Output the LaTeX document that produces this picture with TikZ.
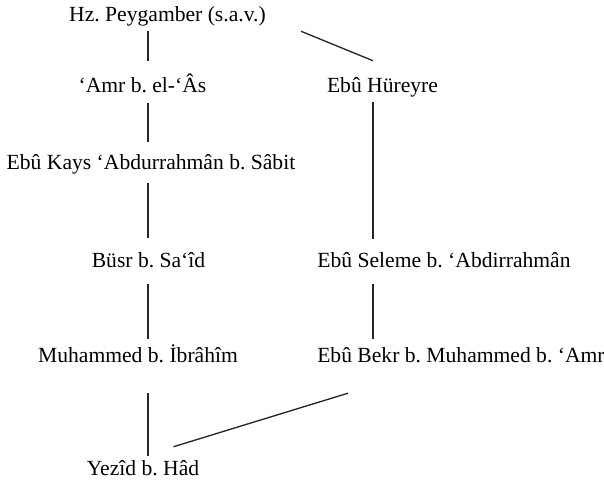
\documentclass[tikz,border=0pt]{standalone}
\usepackage{fontspec}
\setmainfont{Liberation Serif}
\newcommand{\chainfont}{\fontsize{16.2pt}{19pt}\selectfont\frenchspacing}
\tikzset{
  narrator/.style={
    anchor=base,
    inner sep=0pt,
    text height=11.25pt,
    text depth=3.5pt,
    font=\chainfont
  },
  link/.style={
    line width=1pt,
    draw=black!85
  }
}

\begin{document}
\begin{tikzpicture}[x=0.75pt,y=-0.75pt]
  \useasboundingbox (0,0) rectangle (604,482);
  \coordinate (lft) at (148,0);
  \coordinate (rgt) at (373,0);
  % narrators
  \node[narrator] (hz) at (167.5,21) {Hz. Peygamber (s.a.v.)};
  \node[narrator] (amr) at (142.5,92) {‘Amr b. el-‘Âs};
  \node[narrator] (hur) at (382.5,92) {Ebû Hüreyre};
  \node[narrator] (kays) at (151,169) {Ebû Kays ‘Abdurrahmân b. Sâbit};
  \node[narrator] (busr) at (148.5,267) {Büsr b. Sa‘îd};
  \node[narrator] (seleme) at (444,267) {Ebû Seleme b. ‘Abdirrahmân};
  \node[narrator] (muh) at (138,362) {Muhammed b. İbrâhîm};
  \node[narrator, anchor=base west] (bekr) at (317,362) {Ebû Bekr b. Muhammed b. ‘Amr};
  \node[narrator] (yezid) at (143,475) {Yezîd b. Hâd};
  % left chain
  \draw[link, shorten <=4pt, shorten >=12pt] (hz.south -| lft) -- (amr.north -| lft);
  \draw[link, shorten <=4.7pt, shorten >=9pt] (amr.south -| lft) -- (kays.north -| lft);
  \draw[link, shorten <=7pt, shorten >=10.5pt] (kays.south -| lft) -- (busr.north -| lft);
  \draw[link, shorten <=9.2pt, shorten >=6pt] (busr.south -| lft) -- (muh.north -| lft);
  \draw[link, shorten <=19.5pt, shorten >=3pt] (muh.south -| lft) -- (yezid.north -| lft);
  % right chain
  \draw[link] ([xshift=26.25pt, yshift=-4pt]hz.south east) -- ([yshift=12pt]hur.north -| rgt);
  \draw[link, shorten <=4pt, shorten >=9.75pt] (hur.south -| rgt) -- (seleme.north -| rgt);
  \draw[link, shorten <=9.2pt, shorten >=6pt] (seleme.south -| rgt) -- (bekr.north -| rgt);
  \draw[link] ([xshift=23.25pt, yshift=-19.7pt]bekr.south west) -- ([xshift=-19.5pt, yshift=9.75pt]yezid.north east);
\end{tikzpicture}
\end{document}
